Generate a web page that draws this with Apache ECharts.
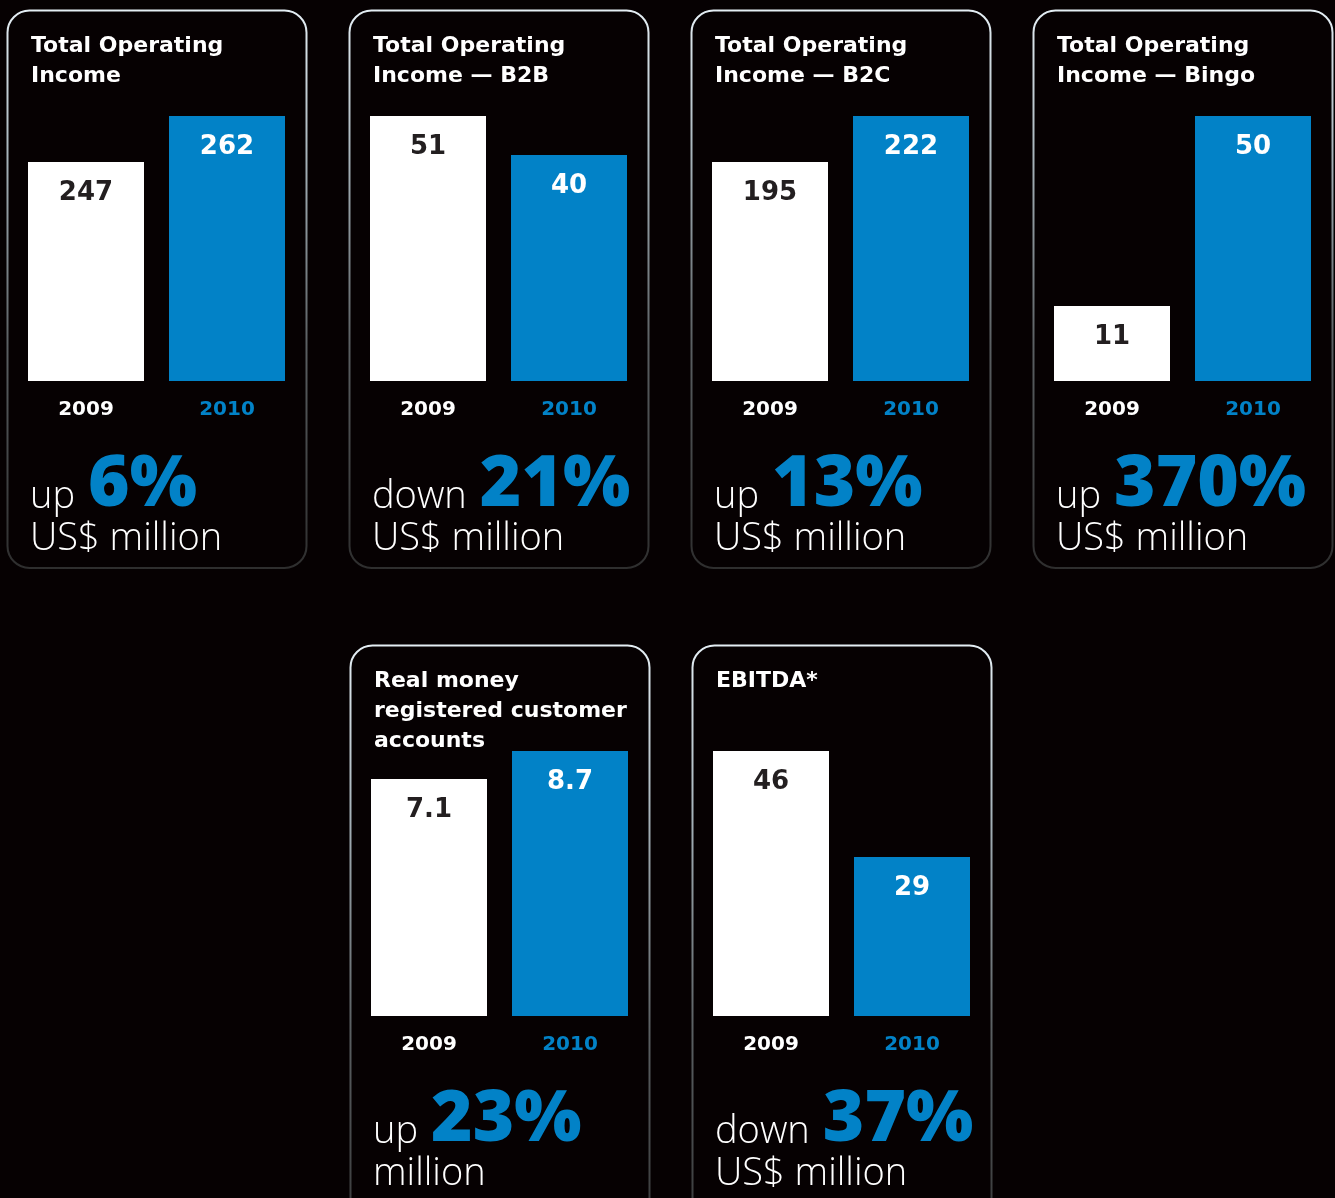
<!DOCTYPE html>
<html><head><meta charset="utf-8">
<script src="https://cdn.jsdelivr.net/npm/echarts@6/dist/echarts.min.js"></script>
<style>html,body{margin:0;padding:0;background:#060102;}#c{width:1335px;height:1198px;}</style>
</head><body><div id="c"></div>
<script>
// ---- data ----
const titles = ['Total Operating\nIncome', 'Total Operating\nIncome — B2B', 'Total Operating\nIncome — B2C', 'Total Operating\nIncome — Bingo', 'Real money\nregistered customer\naccounts', 'EBITDA*'];
const years = ['2009', '2010'];
const values2009 = [247, 51, 195, 11, 7.1, 46];
const values2010 = [262, 40, 222, 50, 8.7, 29];
const changeWords = ['up', 'down', 'up', 'up', 'up', 'down'];
const changePcts = ['6%', '21%', '13%', '370%', '23%', '37%'];
const units = ['US$ million', 'US$ million', 'US$ million', 'US$ million', 'million', 'US$ million'];
// value at which each panel's bars start (the source panels are not drawn from zero)
const axisStart = [175.6, -23.7, 66.5, -4.4, -6.4, 3.5];

// ---- layout ----
const panelX = [7.5, 349.5, 691.5, 1033.5, 350.5, 692.5];
const panelY = [10.5, 10.5, 10.5, 10.5, 645.5, 645.5];
const BLUE = '#0282c7';
const BG = '#060102';

const ctx = document.createElement('canvas').getContext('2d');
function tw(text, font) { ctx.font = font; return ctx.measureText(text).width; }
const LIGHT_FONT = '300 38px "Open Sans"';
const BIG_FONT = '800 71px "Open Sans"';

const grids = [], xAxes = [], yAxes = [], series = [], graphics = [];
for (let i = 0; i < 6; i++) {
  const px = panelX[i], py = panelY[i];
  grids.push({ left: px + 8, top: py + 105.5, width: 282, height: 265, containLabel: false });
  xAxes.push({
    type: 'category', gridIndex: i, data: years,
    axisLine: { show: false }, axisTick: { show: false },
    axisLabel: {
      margin: 19, fontFamily: 'DejaVu Sans', fontWeight: 'bold', fontSize: 20,
      color: (v) => v === '2009' ? '#ffffff' : BLUE
    }
  });
  const mx = Math.max(values2009[i], values2010[i]);
  yAxes.push({
    type: 'value', gridIndex: i, min: axisStart[i], max: mx, startValue: axisStart[i],
    show: false, splitLine: { show: false }
  });
  series.push({
    type: 'bar', xAxisIndex: i, yAxisIndex: i, barWidth: 116,
    label: {
      show: true, position: 'insideTop', distance: 18,
      fontFamily: 'DejaVu Sans', fontWeight: 'bold', fontSize: 26
    },
    data: [
      { value: values2009[i], itemStyle: { color: '#ffffff' }, label: { color: '#231f20' } },
      { value: values2010[i], itemStyle: { color: BLUE }, label: { color: '#ffffff' } }
    ]
  });

  // panel border
  graphics.push({
    type: 'rect', z: -1,
    shape: { x: px, y: py, width: 299, height: i < 4 ? 557.5 : 640, r: 22 },
    style: {
      fill: BG, lineWidth: 2,
      stroke: new echarts.graphic.LinearGradient(0, 0, 0, 1, [
        { offset: 0, color: '#e4eef4' },
        { offset: 0.25, color: '#a9b6bd' },
        { offset: 0.6, color: '#5a5f62' },
        { offset: 1, color: '#2e2e2e' }
      ])
    }
  });
  // title
  graphics.push({
    type: 'text', x: px + 23.5, y: py + 20.5,
    style: {
      text: titles[i], fill: '#ffffff', fontFamily: 'DejaVu Sans', fontWeight: 'bold',
      fontSize: 22, lineHeight: 30, align: 'left', verticalAlign: 'top'
    }
  });
  // change word + percent + unit
  const baseline = py + 495.5;
  const wx = px + 22.5;
  graphics.push({
    type: 'text', x: wx, y: baseline - 8.5,
    style: { text: changeWords[i], fill: '#ffffff', font: LIGHT_FONT, align: 'left', verticalAlign: 'middle' }
  });
  graphics.push({
    type: 'text', x: wx + tw(changeWords[i], LIGHT_FONT) + 13, y: baseline - 20.5,
    style: { text: changePcts[i], fill: BLUE, font: BIG_FONT, align: 'left', verticalAlign: 'middle' }
  });
  graphics.push({
    type: 'text', x: wx, y: baseline + 42 - 8.5,
    style: { text: units[i], fill: '#ffffff', font: LIGHT_FONT, align: 'left', verticalAlign: 'middle' }
  });
}

const chart = echarts.init(document.getElementById('c'), null, { renderer: 'canvas' });
chart.setOption({
  backgroundColor: BG,
  animation: false,
  grid: grids, xAxis: xAxes, yAxis: yAxes, series: series,
  graphic: { elements: graphics }
});
</script>
</body></html>
